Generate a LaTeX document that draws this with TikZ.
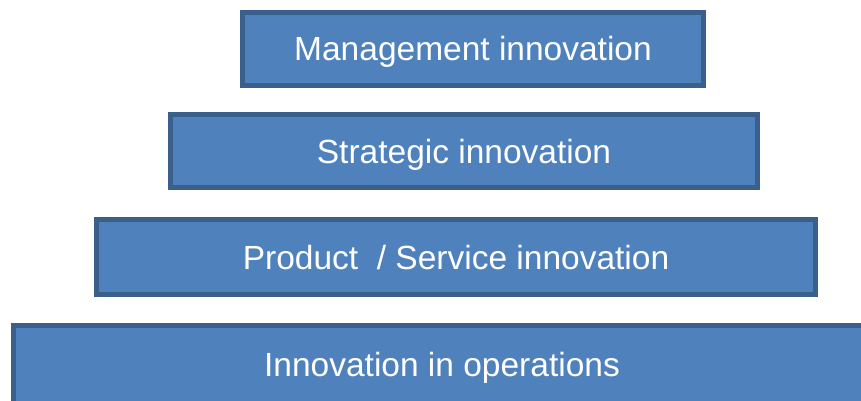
\documentclass[tikz,border=0pt]{standalone}
\usepackage{fontspec}
\setmainfont{Liberation Sans}
\definecolor{tierfill}{HTML}{4F81BD}
\definecolor{tierline}{HTML}{3A5F8B}

\begin{document}
\begin{tikzpicture}[x=1pt, y=-1pt,
	tier/.style={rectangle, draw=tierline, fill=tierfill, line width=5pt, text=white, font=\fontsize{33.5}{40}\selectfont, text height=24pt, text depth=0pt, inner sep=0pt}]
	\useasboundingbox (0,0) rectangle (861,401);
	\node (b1) at (473,49)[tier, minimum width=461pt, minimum height=73pt]{Management innovation};
	\node (b2) at (464,151)[tier, minimum width=587pt, minimum height=73pt]{Strategic innovation};
	\node (b3) at (456,257)[tier, minimum width=719pt, minimum height=75pt]{Product~~/ Service innovation};
	\node (b4) at (442,364)[tier, minimum width=857pt, minimum height=78pt]{Innovation in operations};
\end{tikzpicture}
\end{document}
